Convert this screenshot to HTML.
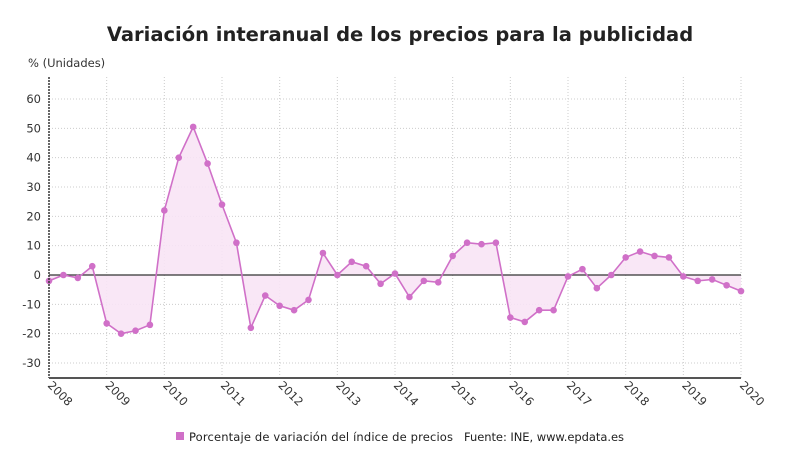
<!DOCTYPE html>
<html><head><meta charset="utf-8"><style>
body{margin:0;background:#fff;width:800px;height:470px;overflow:hidden;font-family:"DejaVu Sans","Liberation Sans",sans-serif}
</style></head><body>
<svg id="s" width="800" height="470" xmlns="http://www.w3.org/2000/svg" font-family="DejaVu Sans, Liberation Sans, sans-serif">
<text x="400" y="41" text-anchor="middle" font-size="19.5" font-weight="bold" fill="#222">Variación interanual de los precios para la publicidad</text>
<text x="28" y="67" font-size="11.5" fill="#333">% (Unidades)</text>
<g id="g"></g>
<rect x="176" y="432" width="8" height="8" fill="#d070c8"/>
<text x="189" y="441" font-size="11.5" fill="#222" textLength="264">Porcentaje de variación del índice de precios</text>
<text x="464" y="441" font-size="11.5" fill="#222" textLength="160">Fuente: INE, www.epdata.es</text>
</svg>
<script>
var v=[-2,0,-1,3,-16.5,-20,-19,-17,22,40,50.5,38,24,11,-18,-7,-10.5,-12,-8.5,7.5,0,4.5,3,-3,0.5,-7.5,-2,-2.5,6.5,11,10.5,11,-14.5,-16,-12,-12,-0.5,2,-4.5,0,6,8,6.5,6,-0.5,-2,-1.5,-3.5,-5.5];
var X0=49,X1=741,Y0=275,k=2.933;
function X(i){return X0+(X1-X0)*i/48}function Y(d){return Y0-d*k}
var h='';
for(var d=-30;d<=60;d+=10){h+='<line x1="'+X0+'" x2="'+X1+'" y1="'+Y(d)+'" y2="'+Y(d)+'" stroke="#ccc" stroke-dasharray="1,2"/>';
h+='<text x="41" y="'+(Y(d)+4)+'" text-anchor="end" font-size="11.5" fill="#333">'+d+'</text>';}
for(var y=0;y<=12;y++){var x=X0+(X1-X0)*y/12;
if(y>0)h+='<line x1="'+x+'" x2="'+x+'" y1="77" y2="378" stroke="#ccc" stroke-dasharray="1,2"/>';
h+='<text transform="translate('+(x-2)+',386) rotate(45)" font-size="11.5" fill="#333">'+(2008+y)+'</text>';}
var p='';for(var i=0;i<v.length;i++)p+=(i?'L':'M')+X(i)+','+Y(v[i]);
h+='<path d="'+p+'L'+X1+','+Y0+'L'+X0+','+Y0+'Z" fill="#f8e4f5" opacity="0.9"/>';
h+='<line x1="'+X0+'" x2="'+X1+'" y1="'+Y0+'" y2="'+Y0+'" stroke="#333" stroke-width="1.2"/>';
h+='<path d="'+p+'" fill="none" stroke="#d070c8" stroke-width="1.6"/>';
for(var i=0;i<v.length;i++)h+='<circle cx="'+X(i)+'" cy="'+Y(v[i])+'" r="3.3" fill="#d070c8"/>';
h+='<line x1="'+X0+'" x2="'+X0+'" y1="77" y2="378" stroke="#333" stroke-dasharray="2,1" stroke-width="1.5"/>';
h+='<line x1="'+X0+'" x2="'+X1+'" y1="378" y2="378" stroke="#555" stroke-width="2"/>';
document.getElementById('g').innerHTML=h;
</script>
</body></html>
